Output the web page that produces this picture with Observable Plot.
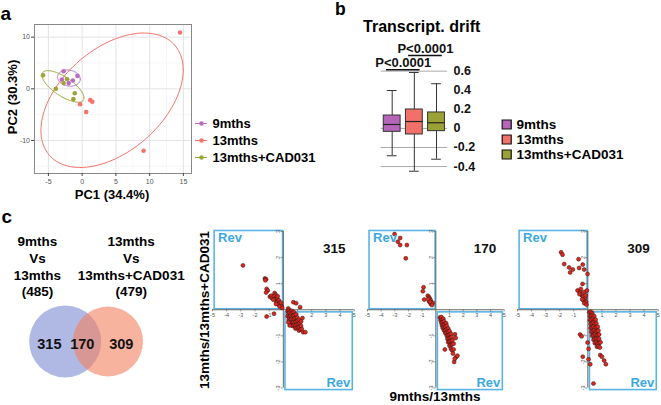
<!DOCTYPE html>
<html><head><meta charset="utf-8">
<script src="https://cdn.jsdelivr.net/npm/d3@7"></script>
<script src="https://cdn.jsdelivr.net/npm/@observablehq/plot@0.6"></script>
<style>
body{margin:0;background:#fff}
#root{position:relative;width:661px;height:405px;overflow:hidden;font-family:"Liberation Sans",Arial,Helvetica,sans-serif;background:#fff}
#root svg{position:absolute;overflow:visible}
.t{position:absolute;white-space:nowrap}
</style></head><body><div id="root"></div>
<script>
// ---------------- DATA ----------------
const groups = ["9mths", "13mths", "13mths+CAD031"];
const groupColors = ["#BA6CC0", "#F4736B", "#9CA636"];

// PCA scores (panel a)
const pc1_9m  = [-2.75, -0.69, -3.0, -1.37, -2.0];
const pc2_9m  = [3.4, 2.5, 1.8, 1.6, 1.1];
const pc1_13m = [14.5, -0.3, 0.6, 1.2, 1.5, 9.1];
const pc2_13m = [10.9, -3.0, -4.5, -2.2, -2.5, -12.0];
const pc1_cad = [-5.8, -2.25, -2.75, -3.9, -1.1, -1.3];
const pc2_cad = [2.6, 1.9, 1.1, 0.0, -0.85, -2.0];
const pcaTicksX = [-5, 0, 5, 10, 15];
const pcaTicksY = [-10, 0, 10];
const pcaMinorX = [-2.5, 2.5, 7.5, 12.5];
const pcaMinorY = [-15, -5, 5];

// Transcriptional drift box plot (panel b)
const boxLow  = [-0.287, -0.449, -0.323];
const boxQ1   = [-0.036, -0.064, -0.029];
const boxMed  = [0.041, 0.072, 0.059];
const boxQ3   = [0.135, 0.198, 0.167];
const boxHigh = [0.397, 0.586, 0.468];
const driftTicks = [0.6, 0.4, 0.2, 0, -0.2, -0.4];
const driftGrid = [0.6, 0, -0.2, -0.4];
const sigPairs = [[0, 1], [1, 2]];
const sigLabels = ["P<0.0001", "P<0.0001"];

// Venn (panel c)
const vennTotals = [485, 479];
const vennRegions = [315, 170, 309];

// Reversal scatter plots (panel c): [9mths/13mths, 13mths/13mths+CAD031]
const rev315 = [
  [-2.85,1.70],[-1.30,1.20],[-1.22,1.17],[-1.27,1.13],[-1.18,0.80],[-1.10,0.74],[-1.22,0.66],
  [-0.95,0.50],[-0.86,0.54],[-0.80,0.44],[-0.62,0.64],[-0.55,0.58],[-0.66,0.52],[-0.50,0.47],
  [-0.58,0.40],[-0.44,0.40],[-0.38,0.33],[-0.47,0.28],[-0.32,0.36],[-0.28,0.26],[-0.22,0.20],
  [-0.36,0.20],[-0.16,0.27],[-0.12,0.14],[-0.26,0.12],[-0.40,0.52],[-0.70,0.38],[-0.08,0.07],
  [-0.52,0.22],[-1.18,-0.26],[-0.66,-0.15],
  [0.35,0.05],[0.71,0.29],[0.90,0.25],[1.18,0.10],
  [0.30,-0.05],[0.40,-0.02],[0.50,-0.06],[0.60,-0.04],[0.35,-0.15],[0.45,-0.12],[0.55,-0.16],
  [0.65,-0.12],[0.75,-0.10],[0.30,-0.25],[0.40,-0.28],[0.50,-0.24],[0.60,-0.28],[0.70,-0.22],
  [0.80,-0.20],[0.90,-0.18],[0.38,-0.38],[0.48,-0.40],[0.58,-0.36],[0.68,-0.40],[0.78,-0.34],
  [0.88,-0.32],[0.98,-0.30],[0.50,-0.50],[0.60,-0.52],[0.70,-0.48],[0.80,-0.50],[0.90,-0.45],
  [1.00,-0.42],[1.10,-0.38],[0.65,-0.62],[0.75,-0.60],[0.85,-0.62],[0.95,-0.58],[1.05,-0.55],
  [1.15,-0.52],[0.85,-0.72],[0.95,-0.70],[1.05,-0.68],[1.15,-0.66],[1.25,-0.62],[1.10,-0.80],
  [1.20,-0.76],[1.30,-0.74],[1.40,-0.86],[1.55,-0.86],[1.35,-0.32],[1.25,-0.45],[0.45,-0.60],
  [0.35,-0.48]
];
const rev170 = [
  [-3.02,2.90],[-2.61,2.75],[-2.78,2.61],[-2.61,2.48],[-2.12,2.48],[-2.20,1.97],[-0.90,0.86],
  [-0.95,0.71],[-0.85,0.39],[-0.59,0.54],[-0.50,0.48],[-0.45,0.43],[-0.38,0.36],[-0.50,0.32],
  [-0.30,0.27],[-0.37,0.22],[-0.22,0.26],[-0.55,0.40],[-0.42,0.30],[-0.28,0.18],
  [0.30,-0.30],[0.40,-0.28],[0.35,-0.40],[0.45,-0.38],[0.55,-0.35],[0.40,-0.50],[0.50,-0.48],
  [0.60,-0.45],[0.45,-0.60],[0.55,-0.58],[0.65,-0.55],[0.75,-0.52],[0.50,-0.70],[0.60,-0.68],
  [0.70,-0.65],[0.80,-0.62],[0.60,-0.80],[0.70,-0.78],[0.80,-0.75],[0.90,-0.72],[0.70,-0.90],
  [0.80,-0.88],[0.90,-0.85],[1.00,-0.82],[0.80,-1.00],[0.90,-0.98],[1.00,-0.95],[1.10,-0.92],
  [1.40,-0.94],[1.45,-1.08],[0.85,-1.12],[0.95,-1.10],[1.05,-1.08],[1.15,-1.05],[0.90,-1.25],
  [1.00,-1.22],[1.10,-1.20],[1.20,-1.18],[1.00,-1.38],[1.10,-1.35],[1.20,-1.32],[1.30,-1.30],
  [0.66,-1.52],[1.10,-1.50],[1.20,-1.55],[1.30,-1.52],[1.25,-1.68],[1.49,-1.81],[1.58,-1.76],
  [1.34,-2.00],[1.38,-1.88]
];
const rev309 = [
  [-1.90,2.20],[-1.80,2.11],[-1.68,1.75],[-1.33,1.62],[-1.26,1.43],[-1.07,1.54],[-0.66,1.94],
  [-0.62,1.60],[-0.36,1.73],[-0.26,1.54],[-0.02,1.37],[-0.38,0.99],[-0.73,0.74],[-0.55,0.68],
  [-0.44,0.56],[-0.33,0.50],[-0.20,0.44],[-0.33,0.37],[-0.12,0.30],[-0.26,0.68],[-0.07,0.74],
  [-0.50,0.80],[-0.15,0.55],[-0.40,0.40],[-0.25,0.25],[-0.10,0.20],[-0.60,0.60],
  [0.10,-0.10],[0.20,-0.08],[0.30,-0.12],[0.15,-0.25],[0.25,-0.22],[0.35,-0.20],[0.45,-0.25],
  [0.15,-0.40],[0.25,-0.38],[0.35,-0.35],[0.45,-0.40],[0.55,-0.38],[0.20,-0.55],[0.30,-0.52],
  [0.40,-0.50],[0.50,-0.55],[0.60,-0.52],[0.20,-0.70],[0.30,-0.68],[0.40,-0.65],[0.50,-0.70],
  [0.60,-0.68],[0.70,-0.65],[0.25,-0.85],[0.35,-0.82],[0.45,-0.80],[0.55,-0.85],[0.65,-0.82],
  [0.75,-0.80],[0.30,-1.00],[0.40,-0.98],[0.50,-0.95],[0.60,-1.00],[0.70,-0.98],[0.80,-0.95],
  [0.40,-1.15],[0.50,-1.12],[0.60,-1.10],[0.70,-1.15],[0.80,-1.12],[0.50,-1.28],[0.60,-1.25],
  [0.70,-1.30],[0.80,-1.28],[0.90,-1.25],[0.65,-1.42],[0.75,-1.40],[0.85,-1.45],
  [0.88,-1.74],[1.00,-1.80],[1.16,-1.95],[1.28,-2.09],
  [-0.55,-0.95],[-0.45,-1.02],[-0.02,-1.26],[0.05,-1.50],[0.05,-1.90],[-0.36,-1.80],[0.17,-2.09],
  [0.40,-2.83]
];
const revTicksX = [-5, -4, -3, -2, -1, 1, 2, 3, 4, 5];
const revTicksY = [-3, -2, -1, 1, 2, 3];

// ---------------- LAYOUT HELPERS ----------------
const FONT = '"Liberation Sans", Arial, Helvetica, sans-serif';
const root = document.getElementById("root");
function put(el, left, top) {
  el.style.position = "absolute";
  el.style.left = left + "px";
  el.style.top = top + "px";
  root.appendChild(el);
}
function txt(s, x, y, o = {}) {
  const d = document.createElement("div");
  d.className = "t";
  d.textContent = s;
  const size = o.size || 13;
  d.style.fontSize = size + "px";
  d.style.lineHeight = size + "px";
  d.style.fontWeight = o.weight || "bold";
  d.style.color = o.color || "#000";
  if (o.rotate) {
    d.style.left = x + "px";
    d.style.top = y + "px";
    d.style.transform = "translate(-50%,-50%) rotate(-90deg)";
  } else {
    const ax = o.anchor === "start" ? 0 : o.anchor === "end" ? -100 : -50;
    d.style.left = x + "px";
    d.style.top = (y - 0.8465 * size) + "px";
    d.style.transform = `translateX(${ax}%)`;
  }
  root.appendChild(d);
}
const baseStyle = {fontFamily: FONT, background: "transparent", overflow: "visible"};

// ---------------- PANEL a : PCA ----------------
const pcaSets = [[pc1_9m, pc2_9m], [pc1_13m, pc2_13m], [pc1_cad, pc2_cad]];
const pcaPts = pcaSets.flatMap(([xs, ys], g) => xs.map((x, i) => ({group: groups[g], x, y: ys[i]})));
function dataEllipse(xs, ys, group, k = 1.76, n = 120) {
  const mx = d3.mean(xs), my = d3.mean(ys);
  const sxx = d3.variance(xs), syy = d3.variance(ys);
  const sxy = d3.sum(xs.map((x, i) => (x - mx) * (ys[i] - my))) / (xs.length - 1);
  const a = Math.sqrt(sxx), b = sxy / a, c = Math.sqrt(Math.max(syy - b * b, 0));
  return d3.range(n + 1).map(i => {
    const t = 2 * Math.PI * i / n, u = Math.cos(t), v = Math.sin(t);
    return {group, x: mx + k * a * u, y: my + k * (b * u + c * v)};
  });
}
const ellipses = pcaSets.flatMap(([xs, ys], g) => dataEllipse(xs, ys, groups[g]));

const pca = Plot.plot({
  width: 200, height: 200, marginLeft: 34, marginRight: 9, marginTop: 24, marginBottom: 27,
  x: {domain: [-7.06, 16.2]}, y: {domain: [-16.4, 12.45]},
  color: {domain: groups, range: groupColors},
  style: baseStyle,
  marks: [
    Plot.gridX(pcaMinorX, {stroke: "#f1f1f1", strokeOpacity: 1, strokeWidth: 0.6}),
    Plot.gridY(pcaMinorY, {stroke: "#f1f1f1", strokeOpacity: 1, strokeWidth: 0.6}),
    Plot.gridX(pcaTicksX, {stroke: "#e3e3e3", strokeOpacity: 1}),
    Plot.gridY(pcaTicksY, {stroke: "#e3e3e3", strokeOpacity: 1}),
    Plot.line(ellipses, {x: "x", y: "y", z: "group", stroke: "group", strokeWidth: 1}),
    Plot.dot(pcaPts, {x: "x", y: "y", fill: "group", r: 2.3}),
    Plot.frame({stroke: "#888"}),
    Plot.axisX(pcaTicksX, {tickSize: 3, tickPadding: 3, fontSize: 7, stroke: "#444", fill: "#555", tickFormat: d => String(d), label: null}),
    Plot.axisY(pcaTicksY, {tickSize: 3, tickPadding: 1.5, fontSize: 7, stroke: "#444", fill: "#555", tickFormat: d => String(d), label: null})
  ]
});
put(pca, 0, 0);

// legend a
const legA = Plot.plot({
  width: 135, height: 55, margin: 0,
  x: {domain: [0, 135], range: [0, 135], axis: null},
  y: {type: "point", domain: groups, range: [12.7, 46.7], padding: 0, axis: null},
  color: {domain: groups, range: groupColors},
  style: baseStyle,
  marks: [
    Plot.ruleY(groups, {y: d => d, x1: 5, x2: 17, stroke: d => d, strokeWidth: 1}),
    Plot.dot(groups, {y: d => d, x: 11, fill: d => d, r: 2.3}),
    Plot.text(groups, {y: d => d, x: 22, text: d => d, textAnchor: "start", fontSize: 13, fontWeight: "bold", fill: "#000"})
  ]
});
put(legA, 190, 110);

txt("a", 0.5, 20, {size: 19, anchor: "start"});
txt("PC2 (30.3%)", 12, 97, {size: 13, rotate: true});
txt("PC1 (34.4%)", 112, 199.5, {size: 13});

// ---------------- PANEL b : box plot ----------------
const boxColors = ["#B566B8", "#F1716A", "#9AA236"];
const bx = groups.map((g, i) => ({g, i: i + 1, lo: boxLow[i], q1: boxQ1[i], med: boxMed[i], q3: boxQ3[i], hi: boxHigh[i]}));
const half = 0.38, capHalf = 0.22, sigExt = 0.26;
const sig = sigPairs.map(([a, b], level) => ({
  a: a + 1, b: b + 1, label: sigLabels[level],
  y: Math.max(boxHigh[a], boxHigh[b]) + 0.028 + level * 0.15
}));
const box = Plot.plot({
  width: 120, height: 185, marginLeft: 20.6, marginRight: 32.9, marginTop: 61.1, marginBottom: 9.4,
  x: {domain: [0.5, 3.5], axis: null}, y: {domain: [-0.5, 0.7]},
  color: {domain: groups, range: boxColors},
  style: {...baseStyle, fontWeight: "bold"},
  marks: [
    Plot.ruleY(driftGrid, {stroke: "#aaa", strokeWidth: 1}),
    Plot.ruleX(bx, {x: "i", y1: "lo", y2: "hi", stroke: "#333"}),
    Plot.ruleY(bx, {y: "hi", x1: d => d.i - capHalf, x2: d => d.i + capHalf, stroke: "#333"}),
    Plot.ruleY(bx, {y: "lo", x1: d => d.i - capHalf, x2: d => d.i + capHalf, stroke: "#333"}),
    Plot.rect(bx, {x1: d => d.i - half, x2: d => d.i + half, y1: "q1", y2: "q3", fill: "g", stroke: "#333", strokeWidth: 1}),
    Plot.ruleY(bx, {y: "med", x1: d => d.i - half, x2: d => d.i + half, stroke: "#222", strokeWidth: 1.2}),
    Plot.ruleY(sig, {y: "y", x1: d => d.a - sigExt, x2: d => d.b + sigExt, stroke: "#111", strokeWidth: 1.4}),
    Plot.text(sig, {x: d => (d.a + d.b) / 2, y: "y", text: "label", dy: -2.8, lineAnchor: "bottom", fontSize: 13, fontWeight: "bold", fill: "#111"}),
    Plot.axisY(driftTicks, {anchor: "right", tickSize: 0, tickPadding: 6, fontSize: 12.5, fontWeight: "bold", fill: "#111", tickFormat: d => String(d), label: null})
  ]
});
put(box, 360, 0);

const legB = Plot.plot({
  width: 145, height: 52, margin: 0,
  x: {domain: [0, 145], range: [0, 145], axis: null},
  y: {type: "point", domain: groups, range: [9.3, 41.3], padding: 0, axis: null},
  color: {domain: groups, range: boxColors},
  style: baseStyle,
  marks: [
    Plot.dot(groups, {y: d => d, x: 11.2, symbol: "square", r: 5.1, fill: d => d, stroke: "#111", strokeWidth: 1.2}),
    Plot.text(groups, {y: d => d, x: 21, text: d => d, textAnchor: "start", fontSize: 13.5, fontWeight: "bold", fill: "#000"})
  ]
});
put(legB, 495, 114);

txt("b", 335, 15.5, {size: 17.5, anchor: "start"});
txt("Transcript. drift", 421.7, 32.7, {size: 16});

// ---------------- PANEL c : Venn ----------------
txt("c", 1.5, 223, {size: 19, anchor: "start"});
const vennHead = [
  [groups[0], "Vs", groups[1], `(${vennTotals[0]})`],
  [groups[1], "Vs", groups[2], `(${vennTotals[1]})`]
];
const headBase = [246.7, 263.3, 280, 296.3];
const headX = [37.4, 131.2];
vennHead.forEach((lines, c) => lines.forEach((s, r) => txt(s, headX[c], headBase[r], {size: 13.5})));

const regionX = [-0.37, 0.40, 1.31]; // label anchors relative to circle centres 0 and 1
const venn = Plot.plot({
  width: 180, height: 110, margin: 0,
  x: {domain: [0, 1], range: [64.7, 107.5], axis: null},
  style: baseStyle,
  marks: [
    Plot.dot([0], {x: d => d, r: 36, fill: "#6E7FCC", fillOpacity: 0.55}),
    Plot.dot([1], {x: d => d, r: 35, fill: "#F4805F", fillOpacity: 0.6}),
    Plot.text(vennRegions, {x: (d, i) => regionX[i], text: d => String(d), fontSize: 14.5, fontWeight: "bold", fill: "#111", lineAnchor: "middle", dy: 2.7})
  ]
});
put(venn, 0, 286);

// ---------------- PANEL c : reversal scatter plots ----------------
const REV = "#5AB4E5";
const revBoxes = [
  {x1: -4.85, x2: -0.02, y1: 0.02, y2: 3.02},
  {x1: 0.15, x2: 4.9, y1: -3.08, y2: -0.1}
];
function revPlot(pts, n, left, pw) {
  const m = 14, ph = 156.5;
  const p = Plot.plot({
    width: pw + 2 * m, height: ph + 2 * m, margin: m,
    x: {domain: [-5, 5], axis: null}, y: {domain: [-3, 3], axis: null},
    style: baseStyle,
    marks: [
      Plot.rect(revBoxes, {x1: "x1", x2: "x2", y1: "y1", y2: "y2", fill: "none", stroke: REV, strokeWidth: 1.6}),
      Plot.ruleY([0], {x1: -5, x2: 5, stroke: "#666", strokeWidth: 1}),
      Plot.ruleX([0], {y1: -3, y2: 3, stroke: "#666", strokeWidth: 1}),
      Plot.ruleX(revTicksX, {x: d => d, y1: 0, y2: -0.08, stroke: "#666", strokeWidth: 0.7}),
      Plot.ruleY(revTicksY, {y: d => d, x1: 0, x2: -0.14, stroke: "#666", strokeWidth: 0.7}),
      Plot.text(revTicksX, {x: d => d, y: 0, text: d => String(d), dy: 5.5, fontSize: 5.5, fill: "#555", lineAnchor: "middle"}),
      Plot.text(revTicksY, {x: 0, y: d => d, text: d => String(d), dx: -5, rotate: -90, fontSize: 5.5, fill: "#555"}),
      Plot.dot(pts, {x: d => d[0], y: d => d[1], r: 2.0, fill: "#E5251B", stroke: "#1a1a1a", strokeWidth: 0.5}),
      Plot.text([revBoxes[0]], {x: "x1", y: "y2", text: () => "Rev", textAnchor: "start", lineAnchor: "bottom", dx: 3.5, dy: 11.5, fontSize: 13, fontWeight: "bold", fill: "#3AA8DF"}),
      Plot.text([revBoxes[1]], {x: "x2", y: "y1", text: () => "Rev", textAnchor: "end", lineAnchor: "bottom", dx: -2.5, dy: -3.3, fontSize: 13, fontWeight: "bold", fill: "#3AA8DF"}),
      Plot.text([n], {x: 3.6, y: 2.18, text: d => String(d), lineAnchor: "bottom", fontSize: 13.5, fontWeight: "bold", fill: "#111"})
    ]
  });
  put(p, left - m, 231 - m);
}
revPlot(rev315, vennRegions[0], 212.3, 141.7);
revPlot(rev170, vennRegions[1], 367.3, 136.7);
revPlot(rev309, vennRegions[2], 517.3, 140.7);

txt(`${groups[1]}/${groups[2]}`, 205, 310, {size: 13.5, rotate: true});
txt(`${groups[0]}/${groups[1]}`, 435, 401, {size: 13.5});
</script></body></html>
